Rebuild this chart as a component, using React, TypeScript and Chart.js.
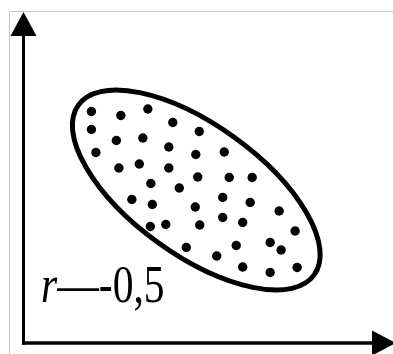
import React, { useEffect, useRef } from "react";
import { Chart, registerables } from "chart.js";

Chart.register(...registerables);

// Scatter dots (arbitrary units, x to the right, y upwards)
const dotX = [
  6.8, 9.75, 12.45, 14.95, 17.6, 6.8, 9.3, 11.95, 14.55, 17.25,
  20.1, 7.25, 9.55, 11.6, 14.55, 17.45, 20.6, 22.9, 12.75, 15.6,
  19.95, 22.7, 10.85, 12.9, 17.2, 25.6, 19.95, 21.95, 14.25, 17.65,
  12.7, 27.2, 21.3, 24.7, 25.8, 16.3, 19.35, 21.95, 24.7, 27.4,
];
const dotY = [
  23.15, 22.75, 23.4, 22.05, 21.15, 21.35, 20.25, 20.5, 19.6, 18.85,
  19.1, 19.05, 17.5, 17.9, 17.5, 16.6, 16.55, 16.55, 15.95, 15.5,
  14.55, 14.05, 14.35, 13.85, 13.6, 13.2, 12.55, 12.05, 11.85, 11.8,
  11.65, 11.2, 9.75, 10.05, 9.3, 9.55, 8.7, 7.6, 7.05, 7.55,
];

// Enclosing ellipse (same units)
const ellipseCenter = [17.3, 15.3];
const ellipseRadii = [14.55, 6.5];
const ellipseTiltDeg = -35.75;

const xRange = [0, 36.5];
const yRange = [0, 33.1];

const labelVar = "r";
const labelRest = "\u2014-0,5";

const decorPlugin = {
  id: "decor",
  beforeDatasetsDraw(chart: any) {
    const { ctx, chartArea } = chart;
    const xs = chart.scales.x;
    const ys = chart.scales.y;
    ctx.save();
    // light frame
    ctx.strokeStyle = "#c8c8c8";
    ctx.lineWidth = 1;
    ctx.beginPath();
    ctx.moveTo(9.5, chart.height);
    ctx.lineTo(9.5, 11.5);
    ctx.lineTo(chart.width, 11.5);
    ctx.stroke();

    // ellipse
    const cx = xs.getPixelForValue(ellipseCenter[0]);
    const cy = ys.getPixelForValue(ellipseCenter[1]);
    const rx = xs.getPixelForValue(ellipseRadii[0]) - xs.getPixelForValue(0);
    const ry = ys.getPixelForValue(0) - ys.getPixelForValue(ellipseRadii[1]);
    ctx.beginPath();
    ctx.ellipse(cx, cy, rx, ry, (-ellipseTiltDeg * Math.PI) / 180, 0, Math.PI * 2);
    ctx.lineWidth = 5;
    ctx.strokeStyle = "#000";
    ctx.stroke();

    // axes
    const x0 = xs.getPixelForValue(xRange[0]);
    const y0 = ys.getPixelForValue(yRange[0]);
    const top = chartArea.top;
    const right = chartArea.right;
    ctx.fillStyle = "#000";
    ctx.lineWidth = 3;
    ctx.beginPath();
    ctx.moveTo(x0, y0 + 1.75);
    ctx.lineTo(x0, top + 20);
    ctx.stroke();
    ctx.beginPath();
    ctx.moveTo(x0, top);
    ctx.lineTo(x0 - 13, top + 24);
    ctx.lineTo(x0 + 13, top + 24);
    ctx.closePath();
    ctx.fill();

    ctx.lineWidth = 3.5;
    ctx.beginPath();
    ctx.moveTo(x0 - 1.5, y0);
    ctx.lineTo(right - 10, y0);
    ctx.stroke();
    ctx.beginPath();
    ctx.moveTo(right + 8, y0);
    ctx.lineTo(right - 16, y0 - 12.5);
    ctx.lineTo(right - 16, y0 + 12.5);
    ctx.closePath();
    ctx.fill();

    // label
    ctx.fillStyle = "#000";
    ctx.textBaseline = "alphabetic";
    ctx.textAlign = "left";
    ctx.translate(41, 302);
    ctx.scale(0.8, 1);
    ctx.font = "italic 52px 'Liberation Serif'";
    ctx.fillText(labelVar, 0, 0);
    const w = ctx.measureText(labelVar).width;
    ctx.font = "52px 'Liberation Serif'";
    ctx.fillText(labelRest, w, 0);
    ctx.restore();
  },
};

export default function App() {
  const ref = useRef<HTMLCanvasElement | null>(null);
  useEffect(() => {
    if (!ref.current) return;
    const points = dotX.map((x, i) => ({ x, y: dotY[i] }));
    const chart = new Chart(ref.current, {
      type: "scatter",
      data: {
        datasets: [
          {
            data: points,
            pointRadius: 4.7,
            pointHoverRadius: 4.7,
            backgroundColor: "#000",
            borderColor: "#000",
            borderWidth: 0,
          },
        ],
      },
      options: {
        responsive: false,
        animation: false,
        devicePixelRatio: 1,
        events: [],
        layout: { padding: { left: 23.5, top: 12, right: 5, bottom: 11 } },
        scales: {
          x: { type: "linear", display: false, min: xRange[0], max: xRange[1] },
          y: { type: "linear", display: false, min: yRange[0], max: yRange[1] },
        },
        plugins: { legend: { display: false }, tooltip: { enabled: false } },
      },
      plugins: [decorPlugin],
    });
    return () => chart.destroy();
  }, []);
  return (
    <div style={{ position: "fixed", left: 0, top: 0, width: 393, height: 354, background: "#fff" }}>
      <canvas ref={ref} width={393} height={354} style={{ display: "block" }} />
    </div>
  );
}
